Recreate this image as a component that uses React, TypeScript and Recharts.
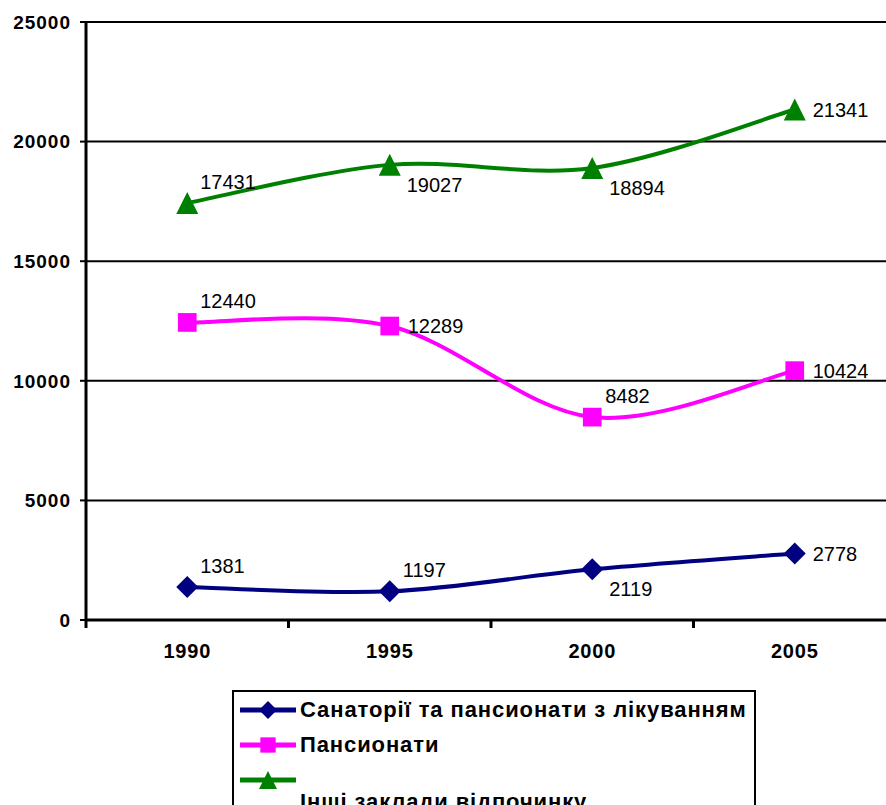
import React from 'react'
import { LineChart, Line, XAxis, YAxis, CartesianGrid, LabelList } from 'recharts'

const years = ['1990', '1995', '2000', '2005']
const sanatorii = [1381, 1197, 2119, 2778]
const pansionaty = [12440, 12289, 8482, 10424]
const inshi = [17431, 19027, 18894, 21341]
const yTicks = [0, 5000, 10000, 15000, 20000, 25000]

const names = {
  sanatorii: 'Санаторії та пансионати з лікуванням',
  pansionaty: 'Пансионати',
  inshi: 'Інші заклади відпочинку',
}

const data = years.map((year, i) => ({
  year,
  sanatorii: sanatorii[i],
  pansionaty: pansionaty[i],
  inshi: inshi[i],
}))

const FONT = "'Liberation Sans', Arial, sans-serif"
const NAVY = '#000080'
const PINK = '#FF00FF'
const GREEN = '#008000'
const HALF_BAND = 101.25

// where each value label sits relative to its marker
const labelOffsets: Record<string, { dx: number; dy: number }> = {
  ur: { dx: 13, dy: -21 },
  r: { dx: 18, dy: 0 },
  lr: { dx: 17, dy: 20 },
}
const navyLabels = ['ur', 'ur', 'lr', 'r']
const pinkLabels = ['ur', 'r', 'ur', 'r']
const greenLabels = ['ur', 'lr', 'lr', 'r']

// Excel-like smoothed line (Catmull-Rom through the points)
function excelSmooth(context: any) {
  let pts: [number, number][] = []
  return {
    areaStart() {},
    areaEnd() {},
    lineStart() {
      pts = []
    },
    lineEnd() {
      const n = pts.length
      if (!n) return
      context.moveTo(pts[0][0], pts[0][1])
      for (let i = 0; i < n - 1; i++) {
        const p0 = pts[Math.max(i - 1, 0)]
        const p1 = pts[i]
        const p2 = pts[i + 1]
        const p3 = pts[Math.min(i + 2, n - 1)]
        context.bezierCurveTo(
          p1[0] + (p2[0] - p0[0]) / 6,
          p1[1] + (p2[1] - p0[1]) / 6,
          p2[0] - (p3[0] - p1[0]) / 6,
          p2[1] - (p3[1] - p1[1]) / 6,
          p2[0],
          p2[1]
        )
      }
    },
    point(x: number, y: number) {
      pts.push([x, y])
    },
  }
}

function Marker({ kind, cx, cy, color, size }: { kind: string; cx: number; cy: number; color: string; size: number }) {
  const h = size / 2
  if (kind === 'diamond') {
    return <polygon points={`${cx},${cy - h} ${cx + h},${cy} ${cx},${cy + h} ${cx - h},${cy}`} fill={color} />
  }
  if (kind === 'square') {
    return <rect x={cx - h * 0.85} y={cy - h * 0.85} width={h * 1.7} height={h * 1.7} fill={color} />
  }
  return <polygon points={`${cx},${cy - h} ${cx + h},${cy + h} ${cx - h},${cy + h}`} fill={color} />
}

const makeDot = (kind: string, color: string) => (props: any) => (
  <Marker key={`${kind}-${props.index}`} kind={kind} cx={props.cx} cy={props.cy} color={color} size={22} />
)

const makeLabel = (placement: string[]) => (props: any) => {
  const off = labelOffsets[placement[props.index]]
  return (
    <text
      key={props.index}
      x={props.x + off.dx}
      y={props.y + off.dy}
      dominantBaseline="central"
      fontFamily={FONT}
      fontSize={20}
      fill="#000"
    >
      {props.value}
    </text>
  )
}

function YearTick(props: any) {
  const { x, y, payload } = props
  return (
    <g>
      <line x1={x - HALF_BAND} y1={y} x2={x - HALF_BAND} y2={y + 8} stroke="#000" strokeWidth={3} />
      <text
        x={x}
        y={y + 38}
        textAnchor="middle"
        fontFamily={FONT}
        fontSize={20}
        fontWeight="bold"
        letterSpacing={0.8}
        fill="#000"
      >
        {payload.value}
      </text>
    </g>
  )
}

function LegendIcon({ kind, color }: { kind: string; color: string }) {
  return (
    <svg width={56} height={24} style={{ display: 'block', flexShrink: 0 }}>
      <line x1={0} y1={12} x2={56} y2={12} stroke={color} strokeWidth={5} />
      <Marker kind={kind} cx={28} cy={12} color={color} size={18} />
    </svg>
  )
}

const legendItems = [
  { name: names.sanatorii, kind: 'diamond', color: NAVY, wrapped: false },
  { name: names.pansionaty, kind: 'square', color: PINK, wrapped: false },
  { name: names.inshi, kind: 'triangle', color: GREEN, wrapped: true },
]

export default function App() {
  return (
    <div style={{ position: 'absolute', left: 0, top: 0, width: 886, height: 805, overflow: 'hidden', background: '#fff' }}>
      <LineChart width={900} height={700} data={data} margin={{ top: 22, right: 4, left: 0, bottom: 50 }}>
        <CartesianGrid vertical={false} stroke="#000" strokeWidth={2} />
        <XAxis
          dataKey="year"
          padding={{ left: HALF_BAND, right: HALF_BAND }}
          height={30}
          axisLine={{ stroke: '#000', strokeWidth: 3 }}
          tickLine={false}
          tickSize={0}
          tickMargin={0}
          tick={<YearTick />}
          interval={0}
        />
        <YAxis
          width={86}
          domain={[0, 25000]}
          ticks={yTicks}
          interval={0}
          axisLine={{ stroke: '#000', strokeWidth: 3 }}
          tickLine={{ stroke: '#000', strokeWidth: 2 }}
          tickSize={6}
          tickMargin={9}
          tick={{ fill: '#000', fontFamily: FONT, fontSize: 19, fontWeight: 'bold', letterSpacing: 1 }}
        />
        <Line
          dataKey="sanatorii"
          name={names.sanatorii}
          type={excelSmooth as any}
          stroke={NAVY}
          strokeWidth={4}
          dot={makeDot('diamond', NAVY)}
          activeDot={false}
          isAnimationActive={false}
        >
          <LabelList dataKey="sanatorii" content={makeLabel(navyLabels)} />
        </Line>
        <Line
          dataKey="pansionaty"
          name={names.pansionaty}
          type={excelSmooth as any}
          stroke={PINK}
          strokeWidth={4}
          dot={makeDot('square', PINK)}
          activeDot={false}
          isAnimationActive={false}
        >
          <LabelList dataKey="pansionaty" content={makeLabel(pinkLabels)} />
        </Line>
        <Line
          dataKey="inshi"
          name={names.inshi}
          type={excelSmooth as any}
          stroke={GREEN}
          strokeWidth={4}
          dot={makeDot('triangle', GREEN)}
          activeDot={false}
          isAnimationActive={false}
        >
          <LabelList dataKey="inshi" content={makeLabel(greenLabels)} />
        </Line>
      </LineChart>
      <div
        style={{
          position: 'absolute',
          left: 232,
          top: 690,
          width: 514,
          height: 140,
          border: '2px solid #000',
          background: '#fff',
          paddingLeft: 6,
          fontFamily: FONT,
          fontSize: 22,
          letterSpacing: 0.9,
          fontWeight: 'bold',
          color: '#000',
          whiteSpace: 'nowrap',
          overflow: 'hidden',
        }}
      >
        {legendItems.map((item) => (
          <div key={item.name}>
            <div style={{ display: 'flex', alignItems: 'center', height: 35 }}>
              <LegendIcon kind={item.kind} color={item.color} />
              {!item.wrapped && <span style={{ marginLeft: 4 }}>{item.name}</span>}
            </div>
            {item.wrapped && (
              <div style={{ paddingLeft: 60, lineHeight: '22px', marginTop: -6 }}>{item.name}</div>
            )}
          </div>
        ))}
      </div>
    </div>
  )
}
